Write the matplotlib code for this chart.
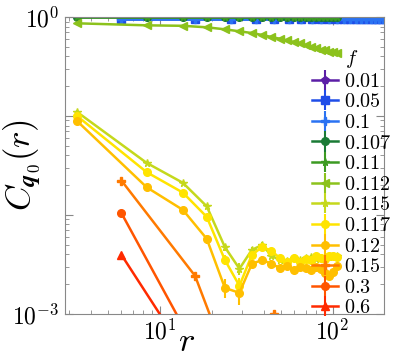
import numpy as np
import matplotlib
matplotlib.use('Agg')
import matplotlib.pyplot as plt
from matplotlib.ticker import LogLocator, NullFormatter

plt.rcParams['mathtext.fontset'] = 'cm'
plt.rcParams['font.family'] = 'serif'
plt.rcParams['font.serif'] = ['DejaVu Serif']

# two r grids (two system sizes)
r_small = [3.3, 8.4, 13.6, 18.7, 23.8, 28.9, 34.1, 39.2, 44.3, 49.4, 54.6,
           59.7, 64.9, 70.0, 75.1, 80.3, 85.4, 90.5, 95.6, 100.8, 105.9]
r_large = [6, 16, 26, 36, 46, 56, 66, 76, 86, 96, 106, 116, 126, 136, 146,
           156, 166, 176, 186, 196]

f_labels = ['0.01', '0.05', '0.1', '0.107', '0.11', '0.112', '0.115',
            '0.117', '0.12', '0.15', '0.3', '0.6']

c_001 = [0.97, 0.97, 0.97, 0.97, 0.97, 0.97, 0.97, 0.97, 0.97, 0.97,
         0.97, 0.97, 0.97, 0.97, 0.97, 0.97, 0.97, 0.97, 0.97, 0.97]
c_005 = [0.965, 0.965, 0.965, 0.965, 0.965, 0.965, 0.965, 0.965, 0.965, 0.965,
         0.965, 0.965, 0.965, 0.965, 0.965, 0.965, 0.965, 0.965, 0.965, 0.965]
c_01 = [0.96, 0.96, 0.96, 0.96, 0.96, 0.96, 0.96, 0.96, 0.96, 0.96,
        0.96, 0.96, 0.96, 0.96, 0.96, 0.96, 0.96, 0.96, 0.96, 0.96]
c_0107 = [0.995, 0.995, 0.995, 0.995, 0.995, 0.995, 0.995, 0.995, 0.995, 0.995, 0.995,
          0.995, 0.995, 0.995, 0.995, 0.995, 0.995, 0.995, 0.995, 0.995, 0.995]
c_011 = [0.99, 0.99, 0.99, 0.99, 0.99, 0.99, 0.99, 0.99, 0.99, 0.99, 0.99,
         0.99, 0.99, 0.99, 0.99, 0.99, 0.99, 0.99, 0.99, 0.99, 0.99]
c_0112 = [0.864, 0.824, 0.815, 0.787, 0.751, 0.717, 0.689, 0.658, 0.628, 0.604, 0.579,
          0.559, 0.540, 0.521, 0.503, 0.486, 0.469, 0.459, 0.448, 0.438, 0.430]
c_0115 = [0.1105, 0.0335, 0.0211, 0.0122, 0.00473, 0.00286, 0.00443, 0.00498, 0.00385,
          0.00351, 0.00343, 0.00368, 0.00351, 0.00368, 0.00376, 0.00360, 0.00368,
          0.00376, 0.00376, 0.00385, 0.00385]
c_0117 = [0.1007, 0.0270, 0.0168, 0.00955, 0.00351, 0.00192, 0.00394, 0.00475, 0.00433,
          0.00368, 0.00335, 0.00368, 0.00335, 0.00360, 0.00351, 0.00385, 0.00368,
          0.00360, 0.00385, 0.00385, 0.00376]
c_012 = [0.0897, 0.0190, 0.01124, 0.00573, 0.00183, 0.00163, 0.00320, 0.00351, 0.00320,
         0.00292, 0.00306, 0.00278, 0.00299, 0.00292, 0.00278, 0.00299, 0.00285,
         0.00259, 0.00242, 0.00266, 0.00306]
r_015 = [6, 16, 26, 36, 46]
c_015 = [0.0222, 0.00242, 0.00026, np.nan, 0.00100]
r_03 = [6, 16]
c_03 = [0.0104, 0.00045]
r_06 = [6, 16]
c_06 = [0.00394, 0.00028]

# error bars of the lower curves
e_0115 = [0.004, 0.0015, 0.001, 0.0006, 0.0004, 0.0004, 0.0003, 0.0003, 0.0002, 0.0002,
          0.0002, 0.0002, 0.0002, 0.0002, 0.0002, 0.0002, 0.0002, 0.0002, 0.0002, 0.0002, 0.0002]
e_0117 = [0.004, 0.0012, 0.0008, 0.0005, 0.0004, 0.0004, 0.0003, 0.0003, 0.0003, 0.0002,
          0.0002, 0.0002, 0.0002, 0.0002, 0.0002, 0.0002, 0.0002, 0.0002, 0.0002, 0.0002, 0.0002]
e_012 = [0.004, 0.001, 0.0008, 0.0006, 0.0004, 0.0004, 0.0003, 0.0003, 0.0003, 0.0002,
         0.0002, 0.0002, 0.0002, 0.0002, 0.0002, 0.0002, 0.0002, 0.0002, 0.0002, 0.0002, 0.0002]

series = [
    (r_large, c_001, None, '#5b1ea6', 'p'),
    (r_large, c_005, None, '#1f4de8', 's'),
    (r_large, c_01, None, '#2a72f2', 'P'),
    (r_small, c_0107, None, '#1a7a35', 'o'),
    (r_small, c_011, None, '#3c9a22', '*'),
    (r_small, c_0112, None, '#8cc21c', '<'),
    (r_small, c_0115, e_0115, '#c5d81c', '*'),
    (r_small, c_0117, e_0117, '#ffe400', 'o'),
    (r_small, c_012, e_012, '#ffbf00', 'o'),
    (r_015, c_015, None, '#ff7a00', 'P'),
    (r_03, c_03, None, '#ff5500', 'o'),
    (r_06, c_06, None, '#ff2a00', '^'),
]

fig = plt.figure(figsize=(4.07, 3.62), dpi=100)
ax = fig.add_axes([0.160, 0.133, 0.783, 0.820])

for (r, c, e, col, m), lab in zip(series, f_labels):
    if e is None:
        e = [0.0] * len(c)
    ax.errorbar(r, c, yerr=e, color=col, marker=m, markersize=5.5, lw=1.8,
                elinewidth=1.5, capsize=0, label='$%s$' % lab)

ax.set_xscale('log')
ax.set_yscale('log')
ax.set_xlim(2.83, 198)
ax.set_ylim(1e-3, 1)

ax.set_yticks([1e-3, 1e-2, 1e-1, 1])
ax.set_yticklabels(['$10^{-3}$', '', '', '$10^{0}$'])
ax.yaxis.set_minor_locator(LogLocator(base=10, subs=np.arange(2, 10)))
ax.yaxis.set_minor_formatter(NullFormatter())
ax.set_xticks([10, 100])
ax.set_xticklabels(['$10^{1}$', '$10^{2}$'])
ax.xaxis.set_minor_locator(LogLocator(base=10, subs=np.arange(2, 10)))
ax.xaxis.set_minor_formatter(NullFormatter())

ax.tick_params(which='both', direction='in', right=True, top=True,
               colors='#888888', labelcolor='black', labelsize=17)
ax.tick_params(which='major', length=6, pad=4)
ax.tick_params(which='minor', length=3)
for sp in ax.spines.values():
    sp.set_color('#888888')

ax.set_xlabel('$r$', fontsize=25)
ax.set_ylabel(r'$C_{\boldsymbol{q}_0}(r)$', fontsize=25)
ax.xaxis.set_label_coords(0.38, -0.035)
ax.yaxis.set_label_coords(-0.065, 0.50)

leg = ax.legend(title='$f$', loc='lower left', bbox_to_anchor=(0.775, -0.012),
                frameon=False, fontsize=14.5, title_fontsize=14.5, borderpad=0,
                borderaxespad=0, handlelength=1.3, handletextpad=0.3,
                labelspacing=0.08)

fig.savefig('out.png', dpi=100)
